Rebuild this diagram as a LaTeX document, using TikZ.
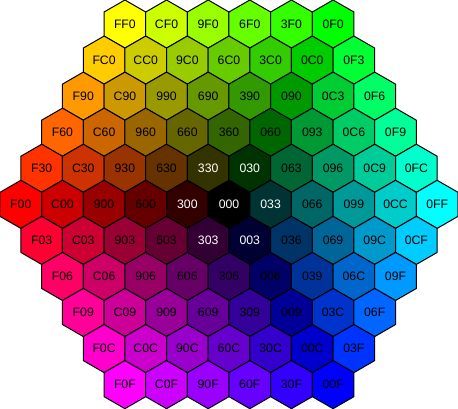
\documentclass[tikz,border=0pt]{standalone}
\usepackage{fontspec}
\setmainfont{Liberation Sans}

% barva bunky z trojice hex cislic (FF0 -> FFFF00)
\def\mkcell#1#2#3\relax{%
  \definecolor{cellcol}{HTML}{#1#1#2#2#3#3}%
  \def\txtcol{black}%
  \ifnum"#1<4 \ifnum"#2<4 \ifnum"#3<4 \def\txtcol{white}\fi\fi\fi}

\tikzset{
  cell/.style={draw=black,line width=0.75pt,line join=round},
  lbl/.style={font=\fontsize{9.2}{10}\selectfont,inner sep=0pt},
}

\begin{document}
\begin{tikzpicture}[x=0.75pt,y=-0.75pt]
  \useasboundingbox (0,0) rectangle (458,409);

  % radky sestiuhelniku, shora dolu
  \foreach \r/\cells in {
      0/{FF0,CF0,9F0,6F0,3F0,0F0},
      1/{FC0,CC0,9C0,6C0,3C0,0C0,0F3},
      2/{F90,C90,990,690,390,090,0C3,0F6},
      3/{F60,C60,960,660,360,060,093,0C6,0F9},
      4/{F30,C30,930,630,330,030,063,096,0C9,0FC},
      5/{F00,C00,900,600,300,000,033,066,099,0CC,0FF},
      6/{F03,C03,903,603,303,003,036,069,09C,0CF},
      7/{F06,C06,906,606,306,006,039,06C,09F},
      8/{F09,C09,909,609,309,009,03C,06F},
      9/{F0C,C0C,90C,60C,30C,00C,03F},
      10/{F0F,C0F,90F,60F,30F,00F}} {
    \pgfmathsetmacro{\xs}{(abs(\r-5)+1)*20.818}
    \pgfmathsetmacro{\ys}{24.04+\r*36.06}
    \foreach \c [count=\i from 0] in \cells {
      \expandafter\mkcell\c\relax
      \begin{scope}[shift={(\xs+\i*41.636,\ys)}]
        \filldraw[cell,fill=cellcol] (30:24.04) -- (90:24.04) -- (150:24.04)
          -- (210:24.04) -- (270:24.04) -- (330:24.04) -- cycle;
        \node[lbl,text=\txtcol] (h-\r-\i) at (0,0) {\c};
      \end{scope}
    }
  }
\end{tikzpicture}
\end{document}
